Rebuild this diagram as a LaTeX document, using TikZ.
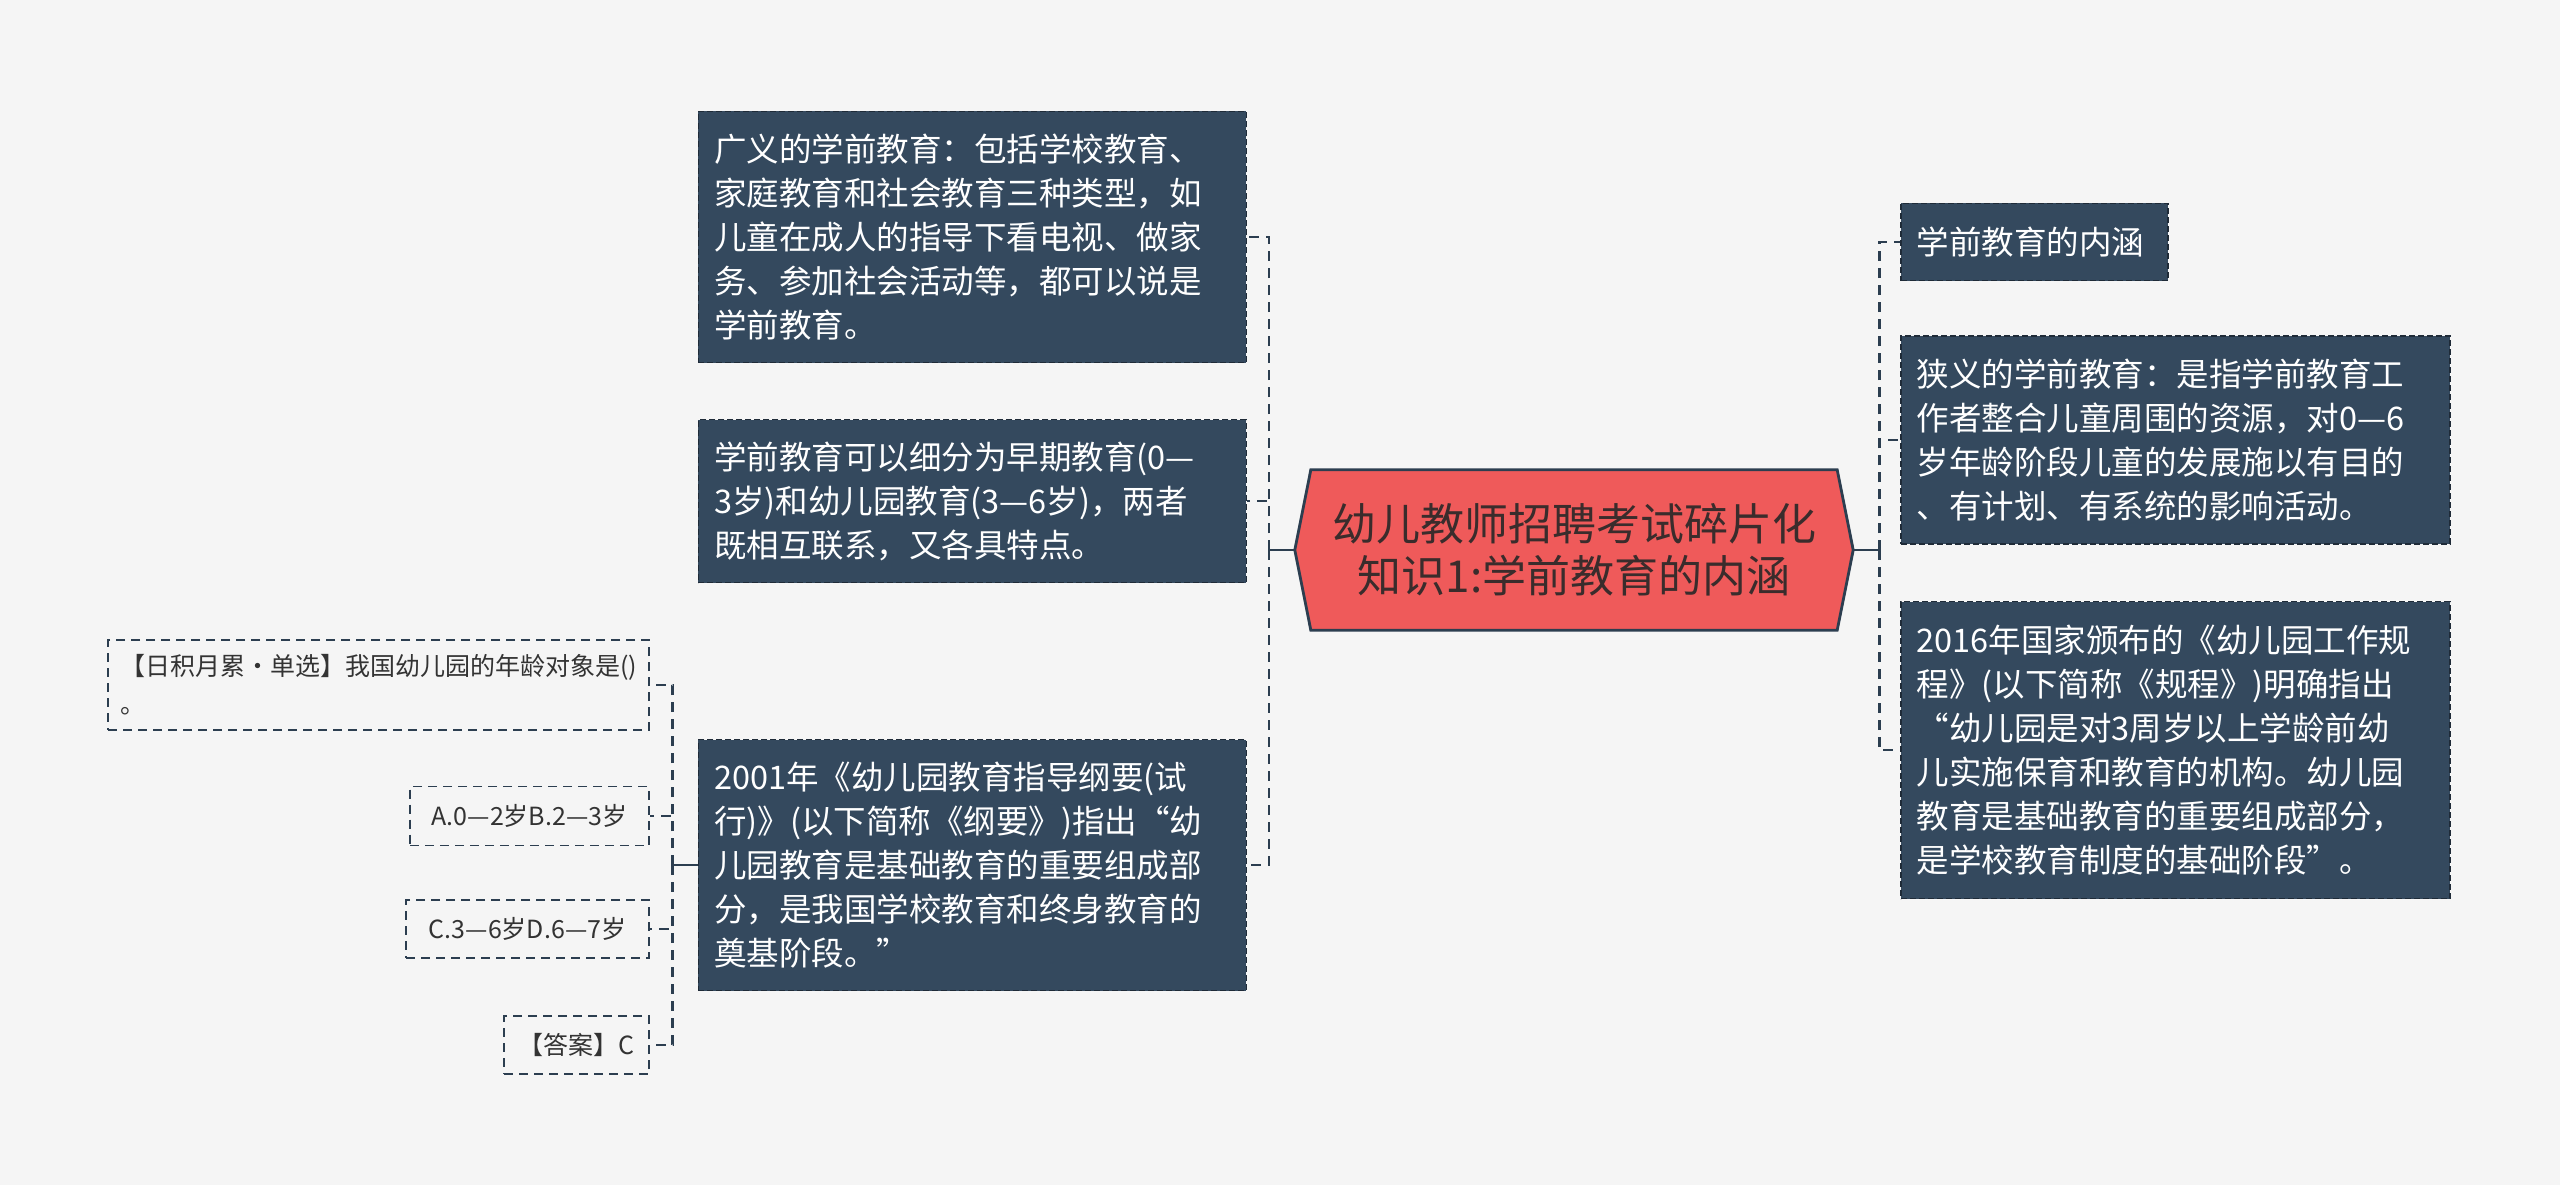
\documentclass[tikz,border=0pt]{standalone}
\usepackage{fontspec}
\setmainfont{Noto Sans CJK SC}
\usetikzlibrary{positioning,backgrounds}

\definecolor{pagebg}{HTML}{F5F5F5}
\definecolor{slate}{HTML}{34495E}
\definecolor{ink}{HTML}{2C3E50}
\definecolor{coral}{HTML}{EF5A5A}
\definecolor{hubink}{HTML}{3A2C2C}
\definecolor{quizink}{HTML}{333333}

\tikzset{
  leaf/.style={draw=ink!70!black, fill=slate, text=white, dash pattern=on 6pt off 3pt,
    line width=1.5pt, font=\fontsize{32.5}{44}\selectfont, align=left,
    inner xsep=16pt, inner ysep=0pt, text width=#1},
  quiz/.style={draw=ink, fill=pagebg, text=quizink, dash pattern=on 9pt off 6pt,
    line width=1.8pt, font=\fontsize{25}{38}\selectfont, align=left,
    inner xsep=12pt, inner ysep=0pt},
  hubbox/.style={text=hubink, font=\fontsize{44}{52}\selectfont, align=center,
    minimum width=558pt, minimum height=160pt, inner sep=0pt},
  trunk/.style={draw=ink, line width=2.6pt},
  branch/.style={draw=ink, line width=2.6pt, dash pattern=on 10pt off 7pt},
}

\begin{document}
\begin{tikzpicture}[x=1pt,y=-1pt]
  \begin{scope}[on background layer]
    \fill[pagebg] (0,0) rectangle (2560,1185);
  \end{scope}
  \useasboundingbox (0,0) rectangle (2560,1185);

  \node[hubbox] (hub) at (1574,550) {幼儿教师招聘考试碎片化\\知识1:学前教育的内涵};
  \begin{scope}[on background layer]
    \draw[fill=coral, draw=ink, line width=2.8pt]
      ([xshift=16pt]hub.north west) -- (hub.west) -- ([xshift=16pt]hub.south west)
      -- ([xshift=-16pt]hub.south east) -- (hub.east) -- ([xshift=-16pt]hub.north east) -- cycle;
  \end{scope}

  % left side
  \node[leaf=516pt, minimum height=251pt, anchor=east] (wide) at (1247,237)
    {广义的学前教育：包括学校教育、\\家庭教育和社会教育三种类型，如\\儿童在成人的指导下看电视、做家\\务、参加社会活动等，都可以说是\\学前教育。};
  \node[leaf=516pt, minimum height=163pt, anchor=east] (stages) at (1247,501)
    {学前教育可以细分为早期教育(0—\\3岁)和幼儿园教育(3—6岁)，两者\\既相互联系，又各具特点。};
  \node[leaf=516pt, minimum height=251pt, anchor=east] (outline) at (1247,865)
    {2001年《幼儿园教育指导纲要(试\\行)》(以下简称《纲要》)指出“幼\\儿园教育是基础教育的重要组成部\\分，是我国学校教育和终身教育的\\奠基阶段。”};

  % right side
  \node[leaf=235pt, minimum height=77pt, anchor=west] (meaning) at (1900,242) {学前教育的内涵};
  \node[leaf=517pt, minimum height=208pt, anchor=west] (narrow) at (1900,440)
    {狭义的学前教育：是指学前教育工\\作者整合儿童周围的资源，对0—6\\岁年龄阶段儿童的发展施以有目的\\、有计划、有系统的影响活动。};
  \node[leaf=517pt, minimum height=297pt, anchor=west] (rules) at (1900,750)
    {2016年国家颁布的《幼儿园工作规\\程》(以下简称《规程》)明确指出\\“幼儿园是对3周岁以上学龄前幼\\儿实施保育和教育的机构。幼儿园\\教育是基础教育的重要组成部分，\\是学校教育制度的基础阶段”。};

  % quiz
  \node[quiz, text width=517pt, minimum height=90pt, anchor=east] (ask) at (650,685)
    {【日积月累·单选】我国幼儿园的年龄对象是()\\。};
  \node[quiz, minimum width=239pt, minimum height=59pt, anchor=east] (optab) at (650,816) {A.0—2岁B.2—3岁};
  \node[quiz, minimum width=243pt, minimum height=58pt, anchor=east] (optcd) at (650,929) {C.3—6岁D.6—7岁};
  \node[quiz, minimum width=145pt, minimum height=58pt, anchor=east] (answer) at (650,1045) {【答案】C};

  \coordinate[left=26pt of hub.west] (lfork);
  \coordinate[right=26pt of hub.east] (rfork);
  \coordinate[left=25pt of outline.west] (qfork);

  \draw[trunk] (hub.west) -- (lfork);
  \foreach \n in {wide,stages,outline} \draw[branch] (lfork) |- (\n.east);
  \draw[trunk] (hub.east) -- (rfork);
  \foreach \n in {meaning,narrow,rules} \draw[branch] (rfork) |- (\n.west);
  \draw[trunk] (outline.west) -- (qfork);
  \foreach \n in {ask,optab,optcd,answer} \draw[branch] (qfork) |- (\n.east);
\end{tikzpicture}
\end{document}
